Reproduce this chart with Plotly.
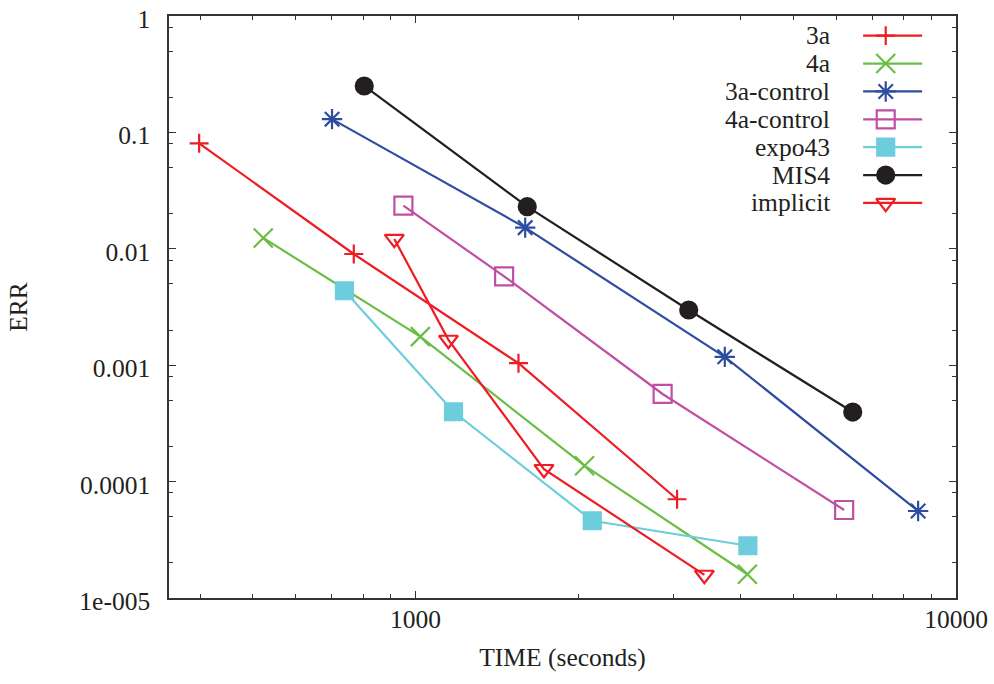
import plotly.graph_objects as go

# ---- data ----
names = ["3a", "4a", "3a-control", "4a-control", "expo43", "MIS4", "implicit"]

time_3a = [398, 769, 1551, 3048]
err_3a = [0.0806, 0.00902, 0.00104, 7.05e-5]

time_4a = [523, 1021, 2055, 4112]
err_4a = [0.0124, 0.00176, 1.37e-4, 1.6e-5]

time_3ac = [701, 1596, 3735, 8510]
err_3ac = [0.130, 0.0152, 0.00118, 5.59e-5]

time_4ac = [950, 1459, 2866, 6210]
err_4ac = [0.0235, 0.0058, 5.66e-4, 5.7e-5]

time_expo = [739, 1176, 2124, 4121]
err_expo = [0.00436, 3.98e-4, 4.61e-5, 2.81e-5]

time_mis4 = [804, 1610, 3203, 6441]
err_mis4 = [0.2505, 0.023, 0.00298, 3.96e-4]

time_impl = [914, 1151, 1729, 3424]
err_impl = [0.01214, 0.00165, 1.28e-4, 1.58e-5]

ytick_vals = [1, 0.1, 0.01, 0.001, 0.0001, 0.00001]
ytick_text = ["1", "0.1", "0.01", "0.001", "0.0001", "1e-005"]
xtick_vals = [1000, 10000]
xtick_text = ["1000", "10000"]

# ---- styles ----
colors = ["#ee1d23", "#6abd45", "#2e4da0", "#bf4fa5", "#6dcddc", "#231f20", "#ee1d23"]
symbols = ["cross-thin", "x-thin", "asterisk", "square-open", "square", "circle", "triangle-down-open"]
sizes = [13.5, 19, 17, 18, 17, 17, 16.5]

xs = [time_3a, time_4a, time_3ac, time_4ac, time_expo, time_mis4, time_impl]
ys = [err_3a, err_4a, err_3ac, err_4ac, err_expo, err_mis4, err_impl]

FONT = "Liberation Serif, Times New Roman, serif"
TXT = "#231f20"
FS = 25.5

fig = go.Figure()
for n, x, y, c, s, sz in zip(names, xs, ys, colors, symbols, sizes):
    fig.add_trace(go.Scatter(
        x=x, y=y, mode="lines+markers", name=n, showlegend=False,
        line=dict(color=c, width=2.2),
        marker=dict(symbol=s, size=sz, color=c, line=dict(color=c, width=2.2)),
    ))

# ---- gnuplot-style key (text right-aligned, sample to its right) ----
key_text_x = 0.842
key_x0, key_xm, key_x1 = 0.882, 0.9107, 0.957
key_top, key_step = 0.9662, 0.0479
for i, (n, c, s, sz) in enumerate(zip(names, colors, symbols, sizes)):
    yy = key_top - i * key_step
    fig.add_trace(go.Scatter(
        x=[key_x0, key_x1], y=[yy, yy], xaxis="x2", yaxis="y2",
        mode="lines", showlegend=False, hoverinfo="skip",
        line=dict(color=c, width=2.2),
    ))
    fig.add_trace(go.Scatter(
        x=[key_xm], y=[yy], xaxis="x2", yaxis="y2",
        mode="markers", showlegend=False, hoverinfo="skip",
        marker=dict(symbol=s, size=sz, color=c, line=dict(color=c, width=2.2)),
    ))
    fig.add_annotation(x=key_text_x, y=yy, xref="paper", yref="paper",
                       text=n, showarrow=False, xanchor="right", yanchor="middle",
                       font=dict(family=FONT, size=FS, color=TXT))

minor_x = [m * 10 ** e for e in (2, 3) for m in range(2, 10)]
minor_y = [m * 10.0 ** e for e in range(-6, 1) for m in (2, 5, 8)]

axis_common = dict(
    type="log", showgrid=False, zeroline=False, automargin=False,
    showline=True, linecolor="#333333", linewidth=1.5, mirror="ticks",
    ticks="inside", ticklen=7, tickwidth=1, tickcolor="#333333",
    tickfont=dict(family=FONT, size=FS, color=TXT),
    ticklabeloverflow="allow",
)

fig.update_layout(
    width=994, height=684,
    margin=dict(l=169, r=38, t=16, b=86),
    paper_bgcolor="white", plot_bgcolor="white",
    font=dict(family=FONT, size=FS, color=TXT),
    xaxis=dict(
        **axis_common,
        range=[2.5441, 4.0],
        tickmode="array", tickvals=xtick_vals, ticktext=xtick_text,
        minor=dict(tickmode="array", tickvals=minor_x, ticks="inside", ticklen=4,
                   tickcolor="#333333", tickwidth=1, showgrid=False),
        ticklabelstandoff=-2,
        title=dict(text="TIME (seconds)", font=dict(family=FONT, size=FS, color=TXT), standoff=15),
    ),
    yaxis=dict(
        **axis_common,
        range=[-5, 0],
        tickmode="array", tickvals=ytick_vals, ticktext=ytick_text,
        minor=dict(tickmode="array", tickvals=minor_y, ticks="inside", ticklen=4,
                   tickcolor="#333333", tickwidth=1, showgrid=False),
        ticklabelstandoff=12,
        ticklabelshift=3,
        title=dict(text="ERR", font=dict(family=FONT, size=FS, color=TXT), standoff=44),
    ),
    xaxis2=dict(overlaying="x", range=[0, 1], visible=False, fixedrange=True),
    yaxis2=dict(overlaying="y", range=[0, 1], visible=False, fixedrange=True),
    showlegend=False,
)

# remove the browser's default 8px body margin so the figure sits at the page origin
fig.write_html("out.html",
               config={"displayModeBar": False},
               post_script="document.body.style.margin='0';document.body.style.overflow='hidden';")
